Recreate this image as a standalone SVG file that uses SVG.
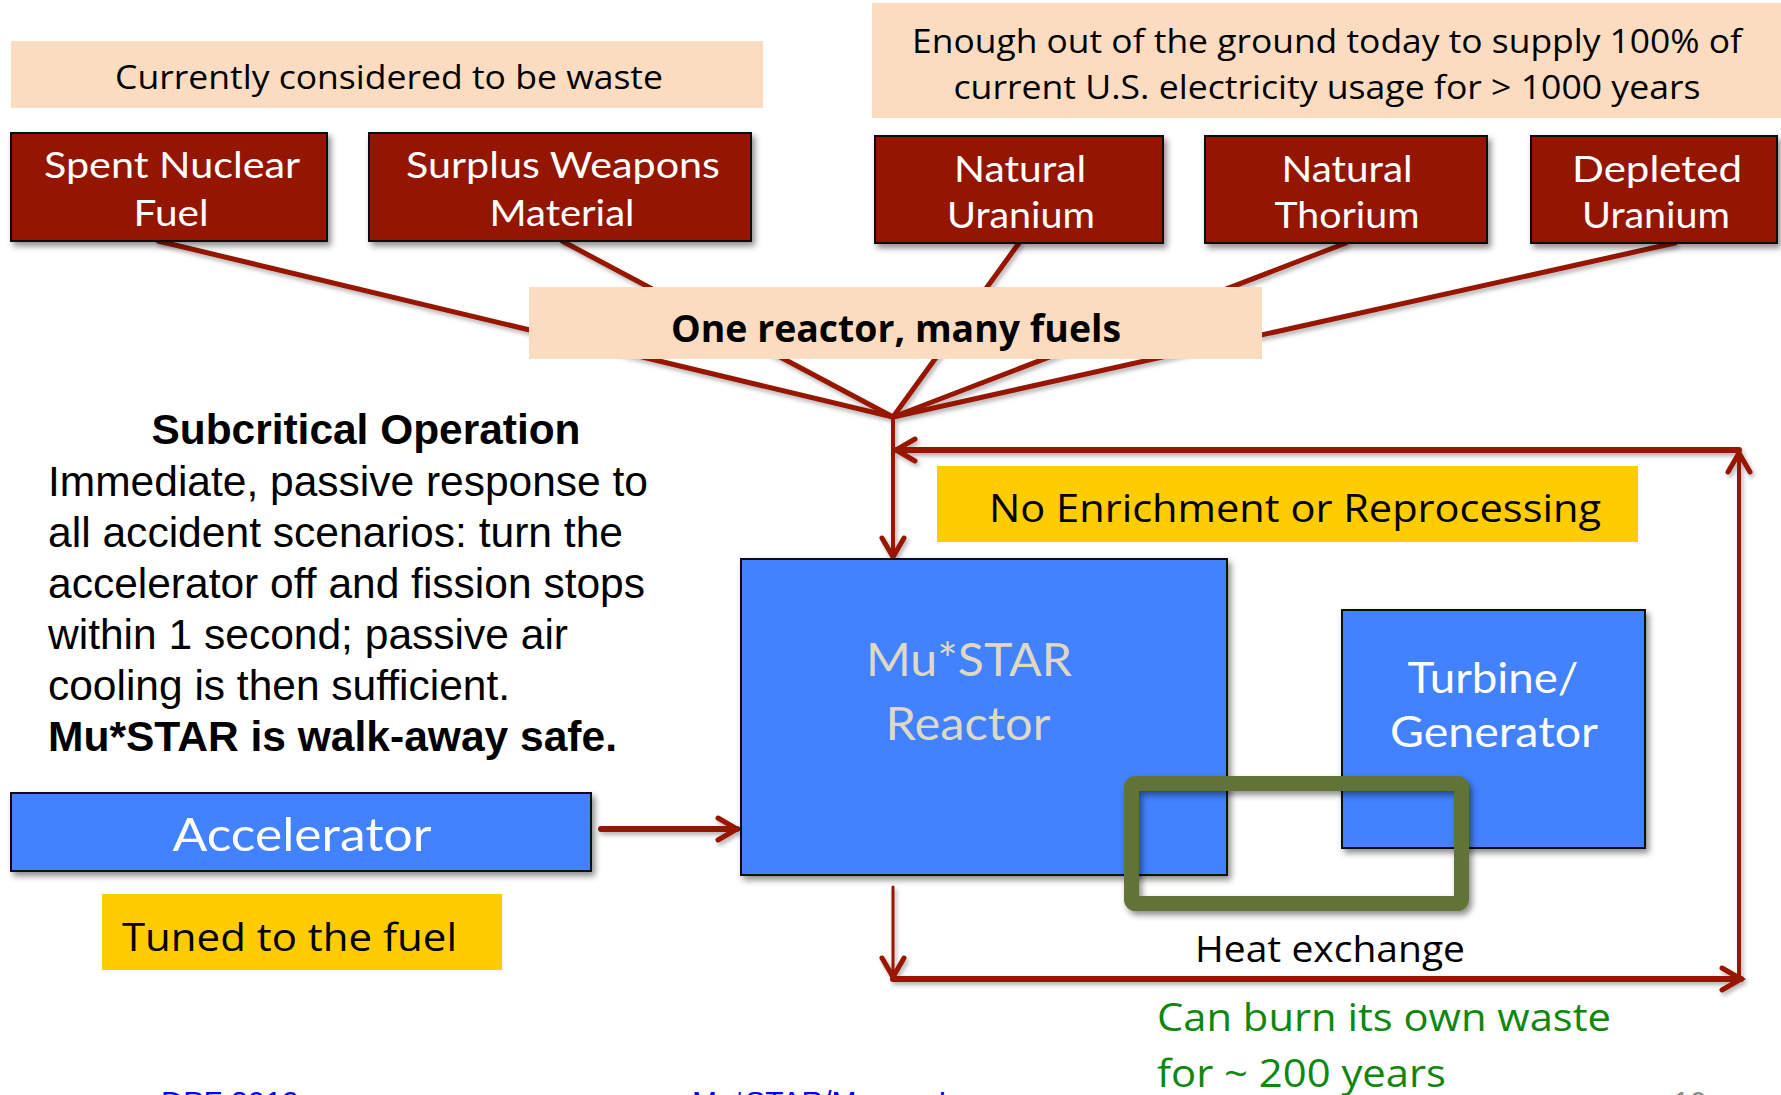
<svg xmlns="http://www.w3.org/2000/svg" width="1781" height="1095" viewBox="0 0 1781 1095">
<defs>
<style>
.bg{fill:#ffffff}
.peach{fill:#FBDCC1}
.yellow{fill:#FFCC00}
.red{fill:#941200;stroke:#111;stroke-width:2}
.blue{fill:#4381FF;stroke:#111;stroke-width:2}
.hx{fill:none;stroke:#627337;stroke-width:15}
.lbl{font-family:Lato,"Open Sans","Liberation Sans",sans-serif;font-weight:400;fill:#ffffff;text-anchor:middle}
.cal{font-family:"Open Sans","Noto Sans","Liberation Sans",sans-serif;fill:#000}
.ar{font-family:"Liberation Sans",Arial,sans-serif;font-size:42px;fill:#000}
.ln{fill:none;stroke:#961400;stroke-linecap:round;stroke-linejoin:round}
.foot{font-family:"Liberation Sans",Arial,sans-serif;font-size:30px}
</style>
<filter id="sh" filterUnits="userSpaceOnUse" x="0" y="0" width="1781" height="1095">
<feDropShadow dx="3" dy="4" stdDeviation="3" flood-color="#000" flood-opacity="0.45"/>
</filter>
<filter id="lsh" filterUnits="userSpaceOnUse" x="0" y="0" width="1781" height="1095">
<feDropShadow dx="2" dy="3" stdDeviation="2" flood-color="#000" flood-opacity="0.3"/>
</filter>
<marker id="ah" markerUnits="userSpaceOnUse" viewBox="-26 -16 30 32" refX="0" refY="0" markerWidth="30" markerHeight="32" orient="auto" overflow="visible">
<path d="M-19,-11 L0,0 L-19,11" fill="none" stroke="#961400" stroke-width="5" stroke-linecap="round" stroke-linejoin="miter"/>
</marker>
</defs>
<rect class="bg" x="0" y="0" width="1781" height="1095"/>

<g id="connectors" filter="url(#lsh)">
<line class="ln" x1="158" y1="241" x2="893" y2="417" stroke-width="5"/>
<line class="ln" x1="562" y1="241" x2="893" y2="417" stroke-width="5"/>
<line class="ln" x1="1019" y1="243" x2="893" y2="417" stroke-width="5"/>
<line class="ln" x1="1346" y1="243" x2="893" y2="417" stroke-width="5"/>
<line class="ln" x1="1675" y1="243" x2="893" y2="417" stroke-width="5"/>
<line class="ln" x1="893" y1="417" x2="893" y2="557" stroke-width="4" marker-end="url(#ah)"/>
<line class="ln" x1="1739" y1="450" x2="896" y2="450" stroke-width="6" marker-end="url(#ah)"/>
<line class="ln" x1="1739" y1="976" x2="1739" y2="453" stroke-width="4" marker-end="url(#ah)"/>
<line class="ln" x1="893" y1="887" x2="893" y2="977" stroke-width="3" marker-end="url(#ah)"/>
<line class="ln" x1="893" y1="979" x2="1741" y2="979" stroke-width="6" marker-end="url(#ah)"/>
<line class="ln" x1="601" y1="829" x2="737" y2="829" stroke-width="6" marker-end="url(#ah)"/>
</g>

<g id="waste-label">
<rect class="peach" x="11" y="41" width="752" height="67"/>
<text class="cal" x="389" y="89" font-size="33" text-anchor="middle" textLength="548" lengthAdjust="spacingAndGlyphs">Currently considered to be waste</text>
</g>

<g id="ground-label">
<rect class="peach" x="872" y="3" width="909" height="115"/>
<text class="cal" x="1327" y="53" font-size="33" text-anchor="middle" textLength="830" lengthAdjust="spacingAndGlyphs">Enough out of the ground today to supply 100% of</text>
<text class="cal" x="1327" y="99" font-size="33" text-anchor="middle" textLength="747" lengthAdjust="spacingAndGlyphs">current U.S. electricity usage for &gt; 1000 years</text>
</g>

<g id="spent-fuel">
<rect class="red" x="11" y="133" width="316" height="108" filter="url(#sh)"/>
<text class="lbl" x="172" y="178" font-size="37" textLength="256" lengthAdjust="spacingAndGlyphs">Spent Nuclear</text>
<text class="lbl" x="171" y="226" font-size="37" textLength="75" lengthAdjust="spacingAndGlyphs">Fuel</text>
</g>
<g id="surplus-weapons">
<rect class="red" x="369" y="133" width="382" height="108" filter="url(#sh)"/>
<text class="lbl" x="563" y="178" font-size="37" textLength="314" lengthAdjust="spacingAndGlyphs">Surplus Weapons</text>
<text class="lbl" x="562" y="226" font-size="37" textLength="145" lengthAdjust="spacingAndGlyphs">Material</text>
</g>
<g id="natural-uranium">
<rect class="red" x="875" y="136" width="288" height="107" filter="url(#sh)"/>
<text class="lbl" x="1020" y="182" font-size="37" textLength="132" lengthAdjust="spacingAndGlyphs">Natural</text>
<text class="lbl" x="1021" y="228" font-size="37" textLength="148" lengthAdjust="spacingAndGlyphs">Uranium</text>
</g>
<g id="natural-thorium">
<rect class="red" x="1205" y="136" width="282" height="107" filter="url(#sh)"/>
<text class="lbl" x="1347" y="182" font-size="37" textLength="131" lengthAdjust="spacingAndGlyphs">Natural</text>
<text class="lbl" x="1347" y="228" font-size="37" textLength="145" lengthAdjust="spacingAndGlyphs">Thorium</text>
</g>
<g id="depleted-uranium">
<rect class="red" x="1531" y="136" width="246" height="107" filter="url(#sh)"/>
<text class="lbl" x="1657" y="182" font-size="37" textLength="170" lengthAdjust="spacingAndGlyphs">Depleted</text>
<text class="lbl" x="1656" y="228" font-size="37" textLength="148" lengthAdjust="spacingAndGlyphs">Uranium</text>
</g>

<g id="one-reactor">
<rect class="peach" x="529" y="287" width="733" height="72"/>
<text class="cal" x="896" y="342" font-size="38" font-weight="bold" text-anchor="middle" textLength="450" lengthAdjust="spacingAndGlyphs">One reactor, many fuels</text>
</g>

<g id="subcritical-text">
<text class="ar" x="366" y="444" font-weight="bold" text-anchor="middle" textLength="429" lengthAdjust="spacingAndGlyphs">Subcritical Operation</text>
<text class="ar" x="48" y="496" textLength="600" lengthAdjust="spacingAndGlyphs">Immediate, passive response to</text>
<text class="ar" x="48" y="547" textLength="575" lengthAdjust="spacingAndGlyphs">all accident scenarios: turn the</text>
<text class="ar" x="48" y="598" textLength="597" lengthAdjust="spacingAndGlyphs">accelerator off and fission stops</text>
<text class="ar" x="48" y="649" textLength="520" lengthAdjust="spacingAndGlyphs">within 1 second; passive air</text>
<text class="ar" x="48" y="700" textLength="462" lengthAdjust="spacingAndGlyphs">cooling is then sufficient.</text>
<text class="ar" x="48" y="751" font-weight="bold" textLength="569" lengthAdjust="spacingAndGlyphs">Mu*STAR is walk-away safe.</text>
</g>

<g id="no-enrichment">
<rect class="yellow" x="937" y="466" width="701" height="76"/>
<text class="cal" x="1295" y="522" font-size="38" text-anchor="middle" textLength="612" lengthAdjust="spacingAndGlyphs">No Enrichment or Reprocessing</text>
</g>

<g id="reactor">
<rect class="blue" x="741" y="559" width="486" height="316" filter="url(#sh)"/>
<text class="lbl" x="969" y="676" font-size="47" style="fill:#DDD9C3" textLength="206" lengthAdjust="spacingAndGlyphs">Mu*STAR</text>
<text class="lbl" x="968" y="740" font-size="47" style="fill:#DDD9C3" textLength="165" lengthAdjust="spacingAndGlyphs">Reactor</text>
</g>

<g id="turbine">
<rect class="blue" x="1342" y="610" width="303" height="238" filter="url(#sh)"/>
<text class="lbl" x="1493" y="693" font-size="43" textLength="171" lengthAdjust="spacingAndGlyphs">Turbine/</text>
<text class="lbl" x="1494" y="747" font-size="43" textLength="208" lengthAdjust="spacingAndGlyphs">Generator</text>
</g>

<g id="heat-exchange">
<rect class="hx" x="1131.5" y="783.5" width="330" height="120" rx="4" filter="url(#sh)"/>
<text class="cal" x="1330" y="962" font-size="36" text-anchor="middle" textLength="270" lengthAdjust="spacingAndGlyphs">Heat exchange</text>
</g>

<g id="accelerator">
<rect class="blue" x="11" y="793" width="580" height="78" filter="url(#sh)"/>
<text class="lbl" x="302" y="851" font-size="46" textLength="259" lengthAdjust="spacingAndGlyphs">Accelerator</text>
</g>

<g id="tuned">
<rect class="yellow" x="102" y="894" width="400" height="76"/>
<text class="cal" x="122" y="951" font-size="38" textLength="335" lengthAdjust="spacingAndGlyphs">Tuned to the fuel</text>
</g>

<g id="own-waste">
<text class="cal" x="1157" y="1031" font-size="38" style="fill:#0E870E" textLength="454" lengthAdjust="spacingAndGlyphs">Can burn its own waste</text>
<text class="cal" x="1157" y="1087" font-size="38" style="fill:#0E870E" textLength="289" lengthAdjust="spacingAndGlyphs">for ~ 200 years</text>
</g>

<g id="footer">
<text class="foot" x="161" y="1112" fill="#0000FF" textLength="138" lengthAdjust="spacingAndGlyphs">DPF 2019</text>
<text class="foot" x="692" y="1112" fill="#0000FF">Mu*STAR/Muons, Inc.</text>
<text class="foot" x="1673" y="1112" font-size="27" fill="#8C8C8C">10</text>
</g>
</svg>
